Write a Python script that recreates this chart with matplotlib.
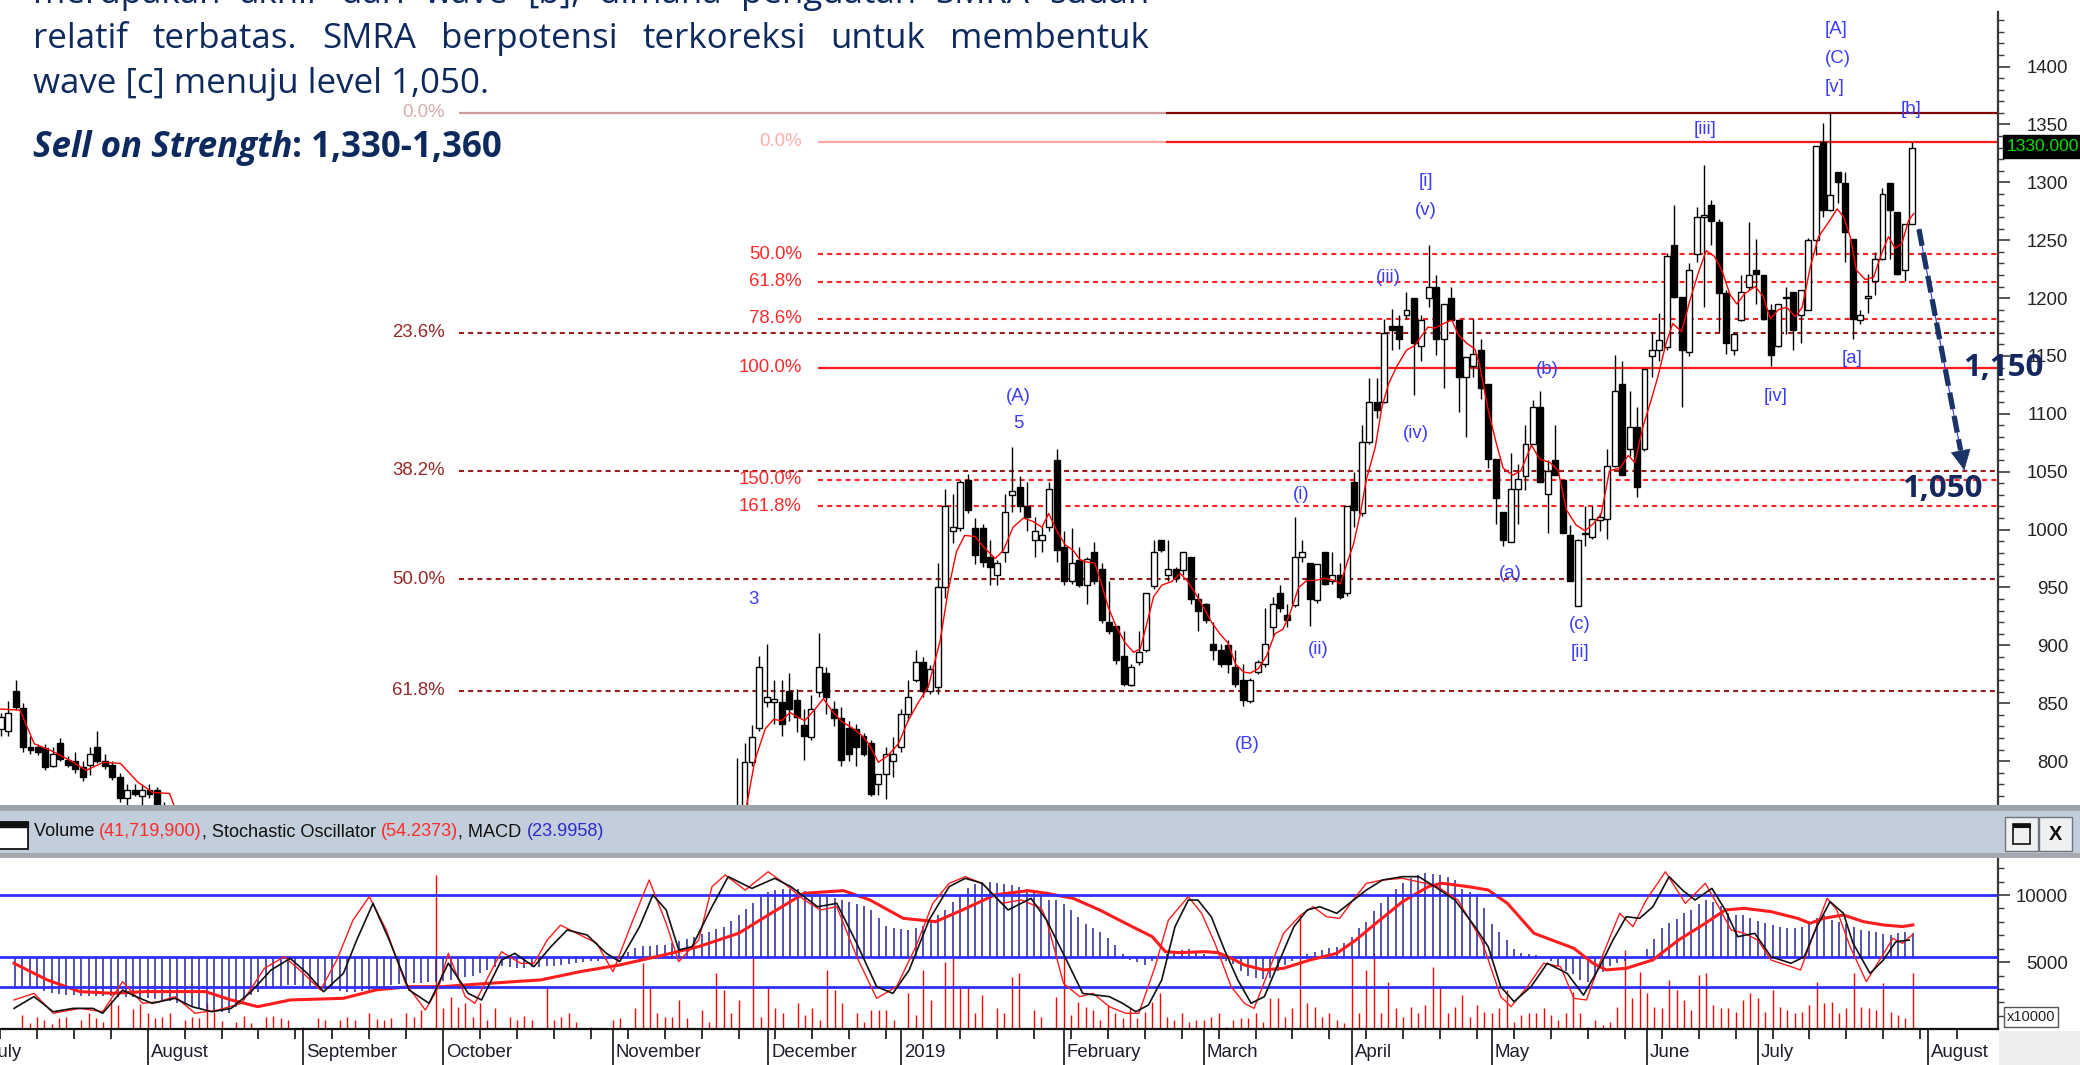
import numpy as np
import matplotlib
matplotlib.use("Agg")
import matplotlib.pyplot as plt
from matplotlib import font_manager
from matplotlib.patches import Rectangle
from matplotlib.transforms import blended_transform_factory, ScaledTranslation

installed = {f.name for f in font_manager.fontManager.ttflist}
NARROW = "Liberation Sans Narrow" if "Liberation Sans Narrow" in installed else "Liberation Sans"
NS = 1.0 if NARROW == "Liberation Sans Narrow" else 0.84
BODY = "Open Sans" if "Open Sans" in installed else "DejaVu Sans"

# ---------------- data (trading-day index, 0 = first day of Aug 2018) ----------------
month_starts = [-22, 0, 21, 40, 63, 84, 102, 124, 143, 163, 182, 203, 218, 241]
month_names = ["July", "August", "September", "October", "November", "December", "2019",
               "February", "March", "April", "May", "June", "July", "August"]

days_left = list(range(-18, 5))
opens_left = [828, 826, 861, 846, 812, 812, 811, 796, 816, 801, 800, 795, 797, 812, 800, 797, 786, 768, 775, 770, 775, 775, 760]
highs_left = [842, 852, 870, 850, 822, 815, 815, 812, 820, 804, 808, 800, 812, 826, 806, 800, 790, 780, 780, 780, 780, 778, 765]
lows_left = [822, 822, 845, 808, 806, 805, 792, 795, 800, 795, 790, 783, 788, 798, 793, 784, 765, 762, 770, 762, 768, 760, 745]
closes_left = [838, 842, 847, 812, 810, 808, 795, 806, 802, 797, 793, 786, 806, 800, 796, 786, 768, 775, 772, 775, 772, 762, 750]

days_right = list(range(81, 240))
opens_right = [745, 755, 799, 829, 851, 851, 851, 861, 853, 831,
               821, 860, 876, 845, 837, 829, 828, 822, 816, 780,
               789, 800, 812, 841, 870, 886, 861, 864, 950, 999,
               1001, 1043, 1001, 1001, 976, 961, 981, 1030, 1037, 1020,
               991, 991, 1002, 1060, 985, 956, 974, 952, 981, 966,
               920, 917, 891, 866, 886, 896, 951, 991, 961, 966,
               965, 976, 940, 936, 901, 896, 900, 881, 870, 852,
               877, 884, 916, 945, 926, 935, 976, 971, 939, 981,
               956, 961, 945, 1041, 1014, 1076, 1110, 1110, 1176, 1176,
               1185, 1200, 1159, 1200, 1210, 1165, 1200, 1181, 1132, 1141,
               1155, 1126, 1061, 1015, 989, 1035, 1046, 1074, 1106, 1031,
               1060, 1043, 995, 934, 996, 994, 1008, 1009, 1055, 1126,
               1070, 1089, 1070, 1150, 1155, 1158, 1246, 1201, 1153, 1238,
               1270, 1280, 1266, 1204, 1155, 1181, 1210, 1224, 1220, 1190,
               1159, 1200, 1205, 1185, 1190, 1250, 1335, 1276, 1309, 1299,
               1251, 1181, 1200, 1215, 1234, 1299, 1274, 1224, 1264]
highs_right = [803, 816, 831, 891, 901, 870, 870, 876, 862, 845,
               857, 911, 881, 852, 847, 835, 832, 824, 818, 789,
               812, 821, 845, 870, 896, 890, 883, 971, 1035, 1031,
               1043, 1048, 1010, 1005, 991, 974, 1031, 1071, 1046, 1041,
               1011, 1002, 1041, 1070, 999, 1001, 985, 976, 989, 971,
               956, 917, 912, 884, 912, 945, 991, 991, 991, 968,
               981, 976, 945, 937, 920, 901, 905, 896, 884, 872,
               887, 932, 942, 952, 936, 1011, 991, 971, 970, 981,
               981, 971, 1020, 1050, 1090, 1131, 1131, 1182, 1191, 1185,
               1205, 1200, 1185, 1246, 1220, 1195, 1210, 1181, 1149, 1182,
               1165, 1126, 1061, 1015, 1066, 1057, 1090, 1112, 1120, 1060,
               1090, 1043, 1004, 992, 1020, 1020, 1014, 1070, 1151, 1146,
               1120, 1106, 1139, 1171, 1187, 1239, 1280, 1201, 1230, 1279,
               1315, 1285, 1268, 1207, 1171, 1220, 1266, 1251, 1220, 1195,
               1195, 1210, 1205, 1207, 1252, 1331, 1351, 1360, 1309, 1309,
               1251, 1190, 1221, 1240, 1295, 1299, 1274, 1264, 1335]
lows_right = [740, 748, 796, 826, 847, 832, 822, 835, 825, 801,
              818, 855, 841, 830, 796, 800, 796, 804, 770, 771,
              767, 786, 808, 835, 868, 855, 858, 858, 941, 988,
              999, 1014, 970, 968, 952, 952, 972, 1015, 1015, 999,
              976, 981, 999, 972, 952, 953, 950, 936, 953, 919,
              910, 884, 865, 865, 883, 894, 949, 981, 956, 955,
              961, 936, 912, 919, 887, 881, 876, 864, 848, 850,
              875, 881, 907, 929, 916, 933, 972, 917, 937, 952,
              953, 940, 943, 1002, 1012, 1074, 1096, 1109, 1155, 1156,
              1182, 1116, 1146, 1192, 1151, 1122, 1181, 1102, 1080, 1132,
              1113, 1053, 1005, 986, 989, 1005, 1034, 1074, 1041, 997,
              1047, 997, 956, 934, 986, 992, 999, 992, 1054, 1047,
              1064, 1028, 1068, 1132, 1146, 1155, 1200, 1106, 1150, 1231,
              1192, 1246, 1171, 1152, 1151, 1180, 1207, 1195, 1181, 1141,
              1158, 1169, 1155, 1161, 1190, 1237, 1270, 1275, 1282, 1231,
              1165, 1178, 1187, 1203, 1233, 1234, 1220, 1215, 1264]
closes_right = [752, 799, 821, 881, 855, 854, 832, 845, 838, 822,
                845, 881, 855, 837, 801, 806, 812, 806, 772, 789,
                806, 806, 841, 855, 886, 861, 880, 950, 1020, 1002,
                1041, 1017, 978, 972, 968, 971, 1015, 1033, 1020, 1011,
                999, 995, 1035, 982, 956, 971, 952, 975, 956, 922,
                912, 887, 867, 881, 894, 945, 981, 982, 966, 958,
                981, 940, 930, 922, 896, 884, 884, 867, 853, 870,
                886, 901, 936, 932, 922, 976, 981, 940, 970, 953,
                961, 942, 1020, 1017, 1076, 1110, 1103, 1170, 1172, 1165,
                1190, 1161, 1181, 1210, 1165, 1195, 1181, 1132, 1149, 1152,
                1122, 1061, 1027, 991, 1035, 1044, 1074, 1106, 1041, 1051,
                1047, 997, 956, 991, 997, 1009, 1011, 1055, 1120, 1047,
                1089, 1037, 1139, 1155, 1164, 1236, 1201, 1155, 1224, 1270,
                1272, 1267, 1204, 1161, 1169, 1205, 1220, 1221, 1182, 1151,
                1195, 1201, 1172, 1207, 1250, 1331, 1276, 1289, 1300, 1257,
                1182, 1185, 1202, 1234, 1290, 1276, 1221, 1264, 1330]

# short moving average
ma_left_x = [-18.0, -15.4, -13.5, -11.2, -8.8, -6.5, -4.2, -1.9, 0.4, 2.4, 4.7, 5.4]
ma_left_y = [845, 844, 815, 809, 801, 792, 799, 798, 782, 773, 772, 760]
ma_right_x = [82.3, 83.4, 84.8, 85.9, 87.0, 88.1, 89.2, 90.1, 91.5, 92.6, 93.7, 95.1, 96.4, 97.8, 98.7,
              100.0, 101.3, 102.7, 104.0, 105.4, 106.7, 108.3, 109.4, 110.5, 111.6, 113.0, 114.3,
              115.7, 116.8, 118.1, 119.5, 120.8, 122.0, 122.9, 124.0, 125.1, 126.2, 127.1, 128.0, 129.1,
              130.0, 130.9, 132.0, 133.2, 134.3, 135.2, 136.1, 137.0, 138.1, 139.4, 140.6, 141.5, 142.6,
              143.7, 144.8, 145.9, 147.0, 148.0, 149.1, 150.0, 151.1, 152.2, 153.3, 154.4, 155.3, 156.5,
              157.6, 158.7, 160.0, 161.4, 162.1, 163.0, 163.9, 164.8, 165.6, 166.8, 167.7, 168.6, 169.7,
              171.0, 172.1, 173.0, 173.9, 174.8, 176.0, 177.1, 178.0, 179.1, 180.2, 180.8, 182.0, 183.1,
              184.0, 185.3, 186.4, 187.8, 188.9, 190.3, 191.4, 192.5, 193.8, 195.0, 196.1, 197.2, 198.3,
              199.7, 200.8, 201.7, 202.8, 203.9, 204.8, 205.9, 206.8, 208.0, 209.1, 210.2, 211.3, 212.4,
              213.4, 214.5, 215.4, 216.5, 217.9, 219.0, 219.9, 221.0, 222.1, 223.3, 224.2, 225.3, 226.4,
              227.7, 228.9, 229.8, 230.7, 231.5, 232.7, 233.8, 234.9, 235.8, 236.7, 237.6, 238.5, 239.2]
ma_right_y = [762, 801, 828, 836, 835, 842, 838, 835, 845, 854, 844, 834, 829, 822, 815,
              799, 805, 815, 835, 851, 864, 904, 948, 981, 995, 994, 984,
              975, 982, 1002, 1010, 1007, 1002, 1014, 999, 987, 982, 974, 972, 971,
              953, 933, 916, 902, 894, 897, 919, 942, 952, 955, 962, 956, 945,
              933, 920, 910, 902, 884, 877, 876, 880, 891, 910, 914, 927, 950,
              956, 956, 958, 956, 953, 971, 988, 1014, 1043, 1071, 1106, 1126, 1141,
              1155, 1159, 1167, 1175, 1174, 1178, 1181, 1168, 1161, 1156, 1143, 1103, 1074,
              1053, 1047, 1051, 1073, 1061, 1058, 1051, 1017, 1004, 999, 1005, 1014, 1051,
              1053, 1064, 1058, 1089, 1112, 1132, 1161, 1178, 1171, 1198, 1221, 1241, 1236,
              1224, 1203, 1195, 1204, 1210, 1201, 1182, 1190, 1192, 1184, 1192, 1227, 1253,
              1265, 1277, 1270, 1252, 1224, 1216, 1218, 1239, 1253, 1243, 1247, 1267, 1273]

# Fibonacci sets
fibA_labels = ["0.0%", "23.6%", "38.2%", "50.0%", "61.8%"]
fibA_prices = [1360, 1170, 1051, 957, 861]
fibB_labels = ["0.0%", "50.0%", "61.8%", "78.6%", "100.0%", "150.0%", "161.8%"]
fibB_prices = [1335, 1238, 1214, 1182, 1140, 1043, 1020]
fibB_solid = ["0.0%", "100.0%"]

# Elliott wave labels (text, day, price)
wave_text = ["3", "(A)", "5", "(B)", "(i)", "(ii)", "(iii)", "[i]", "(v)", "(iv)", "(a)", "(b)",
             "(c)", "[ii]", "[iii]", "[iv]", "[A]", "(C)", "[v]", "[a]", "[b]"]
wave_x = [83.2, 118.8, 118.8, 149.6, 156.8, 159.1, 168.6, 173.6, 173.6, 172.2, 185.0, 189.9,
          194.3, 194.3, 211.2, 220.6, 228.7, 229.0, 228.5, 230.9, 238.8]
wave_y = [940, 1115, 1092, 814, 1030, 896, 1218, 1301, 1276, 1083, 962, 1138,
          918, 894, 1346, 1115, 1432, 1407, 1382, 1148, 1363]

# lower panel
vol_days = [-17, -16, -15, -14, -13, -12, -11, -9, -8, -7, -6, -5, -4, -2, -1, 0, 1, 2, 3, 5,
            6, 7, 8, 9, 10, 12, 13, 14, 16, 17, 18, 19, 21, 23, 24, 26, 27, 28, 30, 31,
            32, 33, 35, 36, 37, 39, 40, 41, 42, 43, 44, 45, 46, 47, 49, 50, 51, 52, 54, 55,
            56, 57, 58, 59, 60, 62, 63, 64, 66, 67, 68, 69, 70, 71, 72, 73, 75, 76, 77, 78,
            79, 80, 82, 83, 84, 85, 86, 88, 89, 90, 91, 92, 93, 94, 96, 97, 98, 99, 100, 101,
            103, 104, 105, 106, 108, 109, 110, 111, 112, 113, 115, 116, 117, 118, 120, 121] + list(range(123, 240))
vol_vals = [1067, 447, 943, 695, 397, 819, 943, 695, 1191, 819, 571, 2184, 1812, 1489, 1886, 1191, 819, 943, 1191, 695,
            943, 819, 1936, 1315, 645, 571, 993, 496, 943, 993, 819, 695, 149, 819, 695, 695, 943, 695, 1191, 745,
            695, 819, 1191, 943, 1440, 11492, 1564, 2432, 1688, 1936, 943, 1936, 695, 1564, 943, 695, 993, 695, 3177, 695,
            943, 1191, 571, 74, 199, 50, 695, 819, 1564, 4914, 3177, 1191, 943, 943, 2184, 819, 1440, 571, 4170, 2929,
            1191, 2184, 5287, 943, 3053, 1564, 1191, 1936, 1067, 1564, 695, 4418, 2929, 1936, 1191, 571, 1440, 1440, 1440, 695,
            2681, 1067, 4418, 2184, 5038, 5287, 3053, 3053, 1191, 2556, 1564, 1191, 3922, 4170, 1440, 943,
            2432, 5411, 1067, 2060, 1688, 1440, 695, 1812, 1191, 819,
            1564, 819, 1315, 2060, 2681, 943, 695, 1191, 571, 695,
            695, 943, 1191, 199, 695, 819, 819, 1191, 571, 2308,
            2308, 943, 1564, 8513, 1936, 1688, 943, 1191, 695, 447,
            5287, 1191, 4418, 5659, 1191, 3549, 1564, 943, 1688, 1191,
            1812, 4666, 3177, 1191, 1688, 2556, 943, 1812, 1315, 1191,
            1564, 2929, 571, 1067, 1191, 1191, 1564, 1067, 695, 1191,
            2805, 1191, 199, 695, 323, 571, 1688, 5907, 2308, 4294,
            2681, 1688, 1564, 3673, 2929, 2184, 1440, 4046, 4170, 1812,
            1564, 1564, 1315, 2184, 2681, 2308, 1315, 2929, 1688, 1440,
            1191, 1315, 1812, 3549, 1936, 2060, 1191, 1564, 4170, 1688,
            1564, 1440, 3425, 1315, 1067, 819, 4172]

macd_days = list(range(-18, 240))
macd_hist = [-31, -31, -32, -33, -35, -37, -38, -39, -40, -41,
             -41, -41, -41, -41, -42, -42, -42, -43, -43, -44,
             -45, -46, -48, -49, -51, -53, -54, -56, -57, -58,
             -52, -45, -40, -36, -33, -31, -30, -29, -29, -30,
             -30, -31, -32, -33, -35, -36, -36, -35, -34, -32,
             -31, -29, -28, -28, -27, -27, -26, -26, -25, -24,
             -23, -21, -20, -17, -14, -11, -10, -11, -12, -12,
             -11, -11, -10, -10, -9, -8, -7, -6, -5, -4,
             -3, -1, 1, 5, 9, 11, 11, 12, 12, 14,
             16, 18, 20, 23, 25, 28, 31, 37, 43, 49,
             55, 61, 67, 69, 70, 70, 70, 68, 66, 64,
             62, 60, 58, 56, 54, 52, 48, 40, 32, 29,
             28, 27, 29, 32, 37, 43, 48, 56, 64, 71,
             75, 77, 77, 76, 75, 74, 72, 70, 68, 62,
             58, 58, 54, 48, 41, 34, 29, 25, 19, 12,
             3, -3, -6, -9, -5, -1, 3, 6, 7, 8,
             6, 3, 1, -2, -5, -8, -15, -20, -22, -23,
             -22, -15, -9, -4, -1, 3, 5, 7, 9, 10,
             14, 20, 29, 36, 47, 55, 62, 70, 76, 81,
             84, 86, 85, 84, 82, 79, 70, 66, 62, 50,
             34, 25, 17, 8, 4, 3, 2, 0, -5, -10,
             -15, -18, -24, -26, -21, -16, -10, -7, -5, -2,
             0, 8, 18, 29, 35, 39, 45, 48, 54, 58,
             56, 52, 45, 43, 43, 40, 37, 35, 33, 30,
             29, 29, 31, 34, 40, 43, 38, 36, 34, 31,
             27, 26, 25, 23, 22, 24, 25, 24]

signal_x = [-18.1, -13.6, -9.2, -4.7, -0.3, 7.8, 11.3, 14.9, 19.3, 26.5, 30.9, 35.4, 39.9, 44.3, 49.7,
            53.2, 58.6, 63.9, 69.3, 74.6, 80.0, 84.4, 88.9, 94.2, 97.8, 102.3, 106.7, 110.3, 114.7,
            119.2, 121.7, 125.3, 128.9, 132.4, 136.0, 137.8, 139.6, 143.1, 144.9, 146.7, 148.5, 151.1,
            153.8, 157.4, 161.0, 163.6, 166.3, 169.9, 173.4, 175.2, 178.8, 181.5, 184.1, 187.7, 191.3,
            193.1, 195.7, 197.5, 200.2, 203.8, 207.3, 210.9, 213.6, 216.2, 219.8, 223.4, 225.1, 226.9,
            229.6, 232.3, 235.0, 237.6, 239.0]
signal_y = [-6.9, -24.0, -36.0, -37.7, -36.0, -36.0, -44.6, -51.5, -44.6, -42.9, -34.3, -30.9, -30.9, -28.5, -25.7,
            -24.0, -15.4, -8.6, 0.7, 10.3, 24.0, 44.6, 65.2, 67.9, 58.3, 39.4, 36.0, 48.0, 63.5,
            67.9, 65.2, 60.0, 48.0, 34.3, 20.6, 5.1, 4.1, 5.1, 4.1, -1.7, -8.6, -13.7,
            -12.0, -3.4, 3.4, 17.2, 34.3, 56.6, 72.0, 75.5, 72.0, 68.6, 54.9, 24.0, 13.7,
            8.6, -6.9, -13.7, -12.0, -3.4, 17.2, 34.3, 48.0, 49.7, 46.3, 39.4, 34.3, 39.4,
            42.9, 36.0, 32.6, 30.9, 32.6]

slow_x = [-18.1, -15.4, -12.8, -10.1, -7.4, -6.1, -3.4, -1.6, 0.6, 3.7, 6.0, 8.7, 11.3, 14.0, 16.7,
          19.3, 21.6, 23.8, 26.5, 28.3, 30.5, 32.7, 35.4, 38.1, 40.7, 43.4, 45.2, 47.9, 49.7, 52.3,
          54.6, 56.8, 59.5, 62.1, 63.9, 66.6, 68.4, 70.2, 71.9, 73.7, 76.4, 78.6, 81.8, 84.9, 87.1,
          90.7, 93.3, 96.0, 98.7, 100.9, 103.1, 105.8, 108.5, 110.7, 113.0, 116.5, 119.6, 121.7, 124.4,
          126.6, 128.4, 130.2, 132.0, 133.8, 135.5, 137.3, 139.1, 140.9, 142.2, 144.0, 145.8, 147.6,
          149.4, 151.2, 152.9, 155.2, 157.0, 158.7, 161.0, 162.7, 165.0, 167.2, 169.9, 172.1, 174.3,
          177.0, 179.7, 181.5, 183.2, 185.0, 187.3, 189.5, 192.2, 194.4, 196.6, 198.4, 200.2, 202.0,
          203.8, 206.0, 207.8, 209.5, 211.8, 213.6, 215.3, 217.6, 219.8, 222.5, 224.3, 226.0, 227.8,
          229.6, 230.9, 233.2, 235.0, 236.7, 238.5]
slow_y = [5.8, 13.5, 3.6, 5.8, 5.8, 2.6, 17.8, 13.5, 9.1, 12.4, 6.9, 3.6, 5.8, 16.7, 30.9,
          38.5, 28.7, 16.7, 28.7, 50.5, 74.5, 50.5, 17.8, 9.1, 35.3, 15.6, 11.3, 37.4, 41.8, 33.1,
          46.2, 57.1, 53.8, 41.8, 36.4, 59.3, 80.0, 70.2, 44.0, 46.2, 72.3, 92.0, 84.3, 90.9, 85.4,
          72.3, 74.5, 48.4, 20.0, 15.6, 30.9, 63.6, 85.4, 90.9, 87.6, 70.2, 77.8, 63.6, 37.4,
          15.6, 14.5, 13.5, 9.1, 3.6, 8.0, 24.4, 59.3, 76.7, 76.7, 65.8, 44.0, 24.4,
          9.1, 13.5, 33.1, 59.3, 70.2, 72.3, 68.0, 74.5, 83.2, 89.8, 92.0, 92.0, 85.4,
          76.7, 59.3, 46.2, 20.0, 10.2, 20.0, 35.3, 28.7, 14.5, 33.1, 50.5, 65.8, 64.7,
          72.3, 92.0, 83.2, 76.7, 84.3, 70.2, 52.7, 54.9, 39.6, 35.3, 39.6, 59.3, 75.6,
          68.0, 48.4, 28.7, 37.4, 49.4, 50.5]

fast_x = [-18.1, -15.4, -12.8, -9.2, -6.1, -3.4, -0.7, 1.5, 3.7, 6.4, 9.5, 12.7, 15.8, 18.5, 21.1,
          23.4, 25.6, 27.8, 30.0, 32.3, 34.9, 37.6, 39.4, 40.7, 43.0, 44.3, 46.1, 47.9, 50.5, 52.3,
          54.1, 55.9, 58.1, 60.8, 63.0, 65.7, 67.9, 70.2, 71.9, 74.6, 76.4, 78.2, 80.9, 84.0, 86.2,
          88.9, 91.1, 93.3, 96.0, 98.7, 101.4, 104.0, 106.3, 108.5, 110.7, 113.0, 115.6, 118.3, 121.0,
          121.7, 124.0, 126.2, 128.0, 130.2, 132.4, 134.2, 136.4, 138.2, 140.9, 142.7, 144.5, 146.7,
          148.5, 149.8, 152.0, 153.8, 156.1, 157.8, 159.6, 161.4, 163.2, 165.0, 167.2, 169.9, 173.0,
          174.3, 177.4, 180.6, 183.2, 184.6, 186.8, 189.0, 191.3, 193.1, 194.8, 197.1, 199.3, 201.1,
          202.9, 205.5, 208.2, 210.9, 212.7, 214.4, 216.2, 218.0, 219.8, 222.5, 223.8, 225.6, 227.4,
          228.7, 230.5, 232.7, 234.5, 236.3, 237.6, 239.0]
fast_y = [11.3, 15.6, 2.6, 5.8, 3.6, 23.3, 9.1, 10.2, 13.5, 2.6, 4.7, 9.1, 32.0, 39.6, 28.7,
          17.8, 37.4, 63.6, 78.9, 57.1, 22.2, 4.7, 20.0, 41.8, 13.5, 9.1, 26.5, 42.9, 35.3, 35.3,
          50.5, 60.3, 54.9, 48.4, 29.8, 63.6, 89.8, 61.4, 36.4, 50.5, 85.4, 93.1, 83.2, 95.2, 87.6,
          76.7, 70.2, 72.3, 39.6, 12.4, 20.0, 46.2, 74.5, 87.6, 92.0, 87.6, 74.5, 76.7, 71.3,
          63.6, 22.2, 13.5, 15.6, 6.9, 2.6, 2.6, 33.1, 63.6, 78.9, 68.0, 48.4, 20.0,
          9.1, 5.8, 33.1, 54.9, 66.9, 72.3, 65.8, 64.7, 76.7, 87.6, 89.8, 90.9, 87.6,
          86.5, 76.7, 50.5, 13.5, 6.9, 20.0, 35.3, 33.1, 12.4, 11.3, 41.8, 68.0, 59.3,
          76.7, 95.2, 74.5, 87.6, 72.3, 57.1, 54.9, 50.5, 37.4, 33.1, 30.9, 54.9, 77.8,
          70.2, 46.2, 23.3, 37.4, 51.6, 48.4, 54.2]

# ---------------- figure geometry (pixels of the 2080x1065 output) ----------------
W, H = 2080, 1065
fig = plt.figure(figsize=(W / 100, H / 100), dpi=100)
fig.patch.set_facecolor("white")


def fx(px):
    return px / W


def fy(py):
    return 1 - py / H


XLIM = (-18.10, 250.53)
NAVY = "#0c2a5e"
WAVE = "#3c3cff"
AXC = "#3a3a3a"

# ---------------- price panel ----------------
ax = fig.add_axes([0, fy(805), fx(1998), 805 / H])
ax.set_xlim(*XLIM)
ax.set_ylim(762.1, 1457.5)
for s in ["left", "top", "bottom"]:
    ax.spines[s].set_visible(False)
ax.spines["right"].set_color(AXC)
ax.spines["right"].set_linewidth(1.6)
ax.spines["right"].set_bounds(762.1, 1447)
ax.set_xticks([])
ax.yaxis.tick_right()
ax.set_yticks(np.arange(800, 1401, 50))
ax.set_yticks(np.arange(770, 1446, 10), minor=True)
ax.tick_params(axis="y", which="major", length=8.6, width=1.2, color=AXC, pad=41.8,
               labelsize=16 * NS, labelcolor="#222222", labelfontfamily=NARROW)
ax.tick_params(axis="y", which="minor", length=4.3, width=1.0, color=AXC)
for lab in ax.get_yticklabels():
    lab.set_horizontalalignment("right")

# Fibonacci lines
for lab, p in zip(fibA_labels, fibA_prices):
    if lab == "0.0%":
        ax.hlines(p, 43.6, XLIM[1], color="#7d0000", lw=1.6, zorder=2)
    else:
        ax.hlines(p, 43.6, XLIM[1], color="#9a1c1c", lw=1.5, linestyles=(0, (2.4, 2.0)), zorder=2)
    ax.text(41.7, p, lab, ha="right", va="center", color="#962828", fontsize=16 * NS,
            family=NARROW, zorder=2)
for lab, p in zip(fibB_labels, fibB_prices):
    if lab in fibB_solid:
        ax.hlines(p, 91.9, XLIM[1], color="#ff1a1a", lw=1.6, zorder=2)
    else:
        ax.hlines(p, 91.9, XLIM[1], color="#ff2020", lw=1.5, linestyles=(0, (2.4, 2.0)), zorder=2)
    ax.text(89.7, p, lab, ha="right", va="center", color="#ff2a2a", fontsize=16 * NS,
            family=NARROW, zorder=2)

# candles
for d_list, o_list, h_list, l_list, c_list in [
        (days_left, opens_left, highs_left, lows_left, closes_left),
        (days_right, opens_right, highs_right, lows_right, closes_right)]:
    d = np.array(d_list)
    o, hi, lo, c = (np.array(v, dtype=float) for v in (o_list, h_list, l_list, c_list))
    ax.vlines(d, lo, hi, color="black", lw=1.0, zorder=3)
    up = c >= o
    ax.bar(d[up], np.maximum((c - o)[up], 1.2), bottom=o[up], width=0.8, color="white",
           edgecolor="black", lw=1.0, zorder=4)
    ax.bar(d[~up], np.maximum((o - c)[~up], 1.2), bottom=c[~up], width=0.8, color="black",
           edgecolor="black", lw=1.0, zorder=4)

ax.plot(ma_left_x, ma_left_y, color="#ff0000", lw=1.0, zorder=5)
ax.plot(ma_right_x, ma_right_y, color="#ff0000", lw=1.0, zorder=5)

for t, x, y in zip(wave_text, wave_x, wave_y):
    ax.text(x, y, t, ha="center", va="center", color=WAVE, fontsize=16 * NS, family=NARROW, zorder=6)

# projected path to 1,050
arrow_from = (239.9, 1259.5)
arrow_to = (246.0, 1051.3)
arrow_mid = (245.5, 1068.5)
ax.plot([arrow_from[0], arrow_to[0]], [arrow_from[1], arrow_to[1]], color="#3030ff", lw=0.8,
        zorder=7, clip_on=False)
ax.plot([arrow_from[0], arrow_mid[0]], [arrow_from[1], arrow_mid[1]], color="#1b3468", lw=3.8,
        ls=(0, (3.2, 1.3)), solid_capstyle="butt", zorder=8, clip_on=False)
ax.annotate("", xy=arrow_to, xytext=arrow_mid,
            arrowprops=dict(arrowstyle="-|>", mutation_scale=34, color="#1b3468", lw=0.5,
                            shrinkA=0, shrinkB=0), zorder=8, annotation_clip=False)
ax.text(251.2, 1139.5, "1,150", ha="center", va="center", color="#14285f", fontsize=22.5,
        fontweight="bold", family=BODY, zorder=10, clip_on=False)
ax.text(243.1, 1034.8, "1,050", ha="center", va="center", color="#14285f", fontsize=22.5,
        fontweight="bold", family=BODY, zorder=10, clip_on=False)

# last price tag
tag_tr = blended_transform_factory(ax.transAxes, ax.transData)
ax.text(1.0045, 1331, "1330.000", transform=tag_tr, ha="left", va="center", color="#00e000",
        fontsize=15 * NS, family=NARROW, zorder=12, clip_on=False,
        bbox=dict(boxstyle="square,pad=0.22", fc="black", ec="black"))

# ---------------- separator / header bar ----------------
fig.patches.append(Rectangle((0, fy(811)), 1, 6 / H, transform=fig.transFigure,
                             fc="#9ea4aa", ec="none", zorder=1))
fig.patches.append(Rectangle((0, fy(853)), 1, 42 / H, transform=fig.transFigure,
                             fc="#c2cedb", ec="none", zorder=1))
fig.patches.append(Rectangle((0, fy(858)), 1, 5 / H, transform=fig.transFigure,
                             fc="#a3a9af", ec="none", zorder=1))
# window icon
fig.patches.append(Rectangle((fx(-3), fy(849)), fx(31), 27 / H, transform=fig.transFigure,
                             fc="white", ec="#111111", lw=1.3, zorder=2))
fig.patches.append(Rectangle((fx(-3), fy(827)), fx(31), 5 / H, transform=fig.transFigure,
                             fc="#111111", ec="#111111", lw=1.0, zorder=2))
# buttons
for bx in (2005, 2039):
    fig.patches.append(Rectangle((fx(bx), fy(851)), fx(33), 34 / H, transform=fig.transFigure,
                                 fc="#eef0f2", ec="#6e757c", lw=1.0, zorder=2))
fig.patches.append(Rectangle((fx(2013), fy(844)), fx(17), 20 / H, transform=fig.transFigure,
                             fc="none", ec="#111111", lw=1.2, zorder=3))
fig.patches.append(Rectangle((fx(2013), fy(827)), fx(17), 3 / H, transform=fig.transFigure,
                             fc="#111111", ec="#111111", lw=0.8, zorder=3))
fig.text(fx(2055.5), fy(834), "X", ha="center", va="center", fontsize=17 * NS, family=NARROW,
         fontweight="bold", color="#111111", zorder=3)

renderer = fig.canvas.get_renderer()
header_parts = [("Volume ", "#111111"), ("(41,719,900)", "#ff2a2a"), (", Stochastic Oscillator ", "#111111"),
                ("(54.2373)", "#ff2a2a"), (", MACD ", "#111111"), ("(23.9958)", "#2b2bc8")]
xpos = 34
for txt, col in header_parts:
    t = fig.text(fx(xpos), fy(832), txt, ha="left", va="center", color=col, fontsize=15.5 * NS,
                 family=NARROW, zorder=3)
    xpos += t.get_window_extent(renderer).width

# ---------------- lower panel ----------------
ax2 = fig.add_axes([0, fy(1029.3), fx(1998), 171.3 / H])
ax_m = ax2.twinx()
ax_s = ax2.twinx()
ax2.set_xlim(*XLIM)
ax2.set_ylim(0, 12757)
ax_m.set_ylim(-74.8, 101.5)
ax_s.set_ylim(-7.9, 104.2)
ax_m.axis("off")
ax_s.axis("off")

ax2.vlines(vol_days, 0, vol_vals, color="#ff0000", lw=1.0)
ax_m.vlines(macd_days, 0, macd_hist, color="#24249c", lw=1.1)
ax_m.axhline(0, color="#2f2fff", lw=2.0)
ax_s.axhline(80, color="#2f2fff", lw=2.0)
ax_s.axhline(20, color="#2f2fff", lw=2.0)
ax_m.plot(signal_x, signal_y, color="#ff1c1c", lw=2.2)
ax_s.plot(fast_x, fast_y, color="#ff1c1c", lw=1.0)
ax_s.plot(slow_x, slow_y, color="#111111", lw=1.2)

for s in ["left", "top"]:
    ax2.spines[s].set_visible(False)
ax2.spines["right"].set_color(AXC)
ax2.spines["right"].set_linewidth(1.6)
ax2.spines["bottom"].set_color("#111111")
ax2.spines["bottom"].set_linewidth(1.6)
ax2.yaxis.tick_right()
ax2.set_yticks([5000, 10000])
ax2.set_yticks(np.arange(1000, 12001, 1000), minor=True)
ax2.tick_params(axis="y", which="major", length=8.6, width=1.2, color=AXC, pad=41.8,
                labelsize=16 * NS, labelcolor="#222222", labelfontfamily=NARROW)
ax2.tick_params(axis="y", which="minor", length=4.3, width=1.0, color=AXC)
for lab in ax2.get_yticklabels():
    lab.set_horizontalalignment("right")
ax2.set_xticks(month_starts[1:])
ax2.set_xticks(np.arange(-20, 250, 5), minor=True)
ax2.tick_params(axis="x", which="major", length=26, width=1.2, color="#111111", labelbottom=False)
ax2.tick_params(axis="x", which="minor", length=7, width=1.2, color="#111111")

mtr = blended_transform_factory(ax2.transData, ax2.transAxes) + ScaledTranslation(3 / 100, 0, fig.dpi_scale_trans)
for m, name in zip(month_starts, month_names):
    ax2.text(m, -0.138, name, transform=mtr, ha="left", va="center", fontsize=16 * NS,
             family=NARROW, color="#1c1c2c", clip_on=False)

fig.patches.append(Rectangle((fx(1999), 0), fx(81), (1065 - 1031) / H, transform=fig.transFigure,
                             fc="#eeeeee", ec="none", zorder=1))
fig.text(fx(2031), fy(1017), "x10000", ha="center", va="center", fontsize=12.5 * NS, family=NARROW,
         color="#222222", zorder=3,
         bbox=dict(boxstyle="square,pad=0.2", fc="white", ec="#555555", lw=1.0))

# ---------------- commentary overlay ----------------
fig.patches.append(Rectangle((0, fy(178)), fx(1166), 178 / H, transform=fig.transFigure,
                             fc="white", ec="none", alpha=0.62, zorder=5))

probe = fig.text(0, 0, "wave [c] menuju level 1,050.", fontsize=24, family=BODY)
body_size = 24 * 458 / probe.get_window_extent(renderer).width
probe.remove()


def justify(words, x0, x1, base, **kw):
    arts = [fig.text(0, fy(base), w, va="baseline", ha="left", **kw) for w in words]
    widths = [a.get_window_extent(renderer).width for a in arts]
    gap = (x1 - x0 - sum(widths)) / (len(words) - 1)
    x = x0
    for a, wd in zip(arts, widths):
        a.set_x(fx(x))
        x += wd + gap


body_kw = dict(fontsize=body_size, family=BODY, color=NAVY, zorder=6)
justify("merupakan akhir dari wave [b], dimana penguatan SMRA sudah".split(), 33, 1149, 3, **body_kw)
justify("relatif terbatas. SMRA berpotensi terkoreksi untuk membentuk".split(), 33, 1149, 48, **body_kw)
fig.text(fx(33), fy(93), "wave [c] menuju level 1,050.", va="baseline", ha="left", **body_kw)

t1 = fig.text(fx(33), fy(157), "Sell on Strength", va="baseline", ha="left", fontsize=body_size,
              family=BODY, color=NAVY, fontweight="bold", fontstyle="italic", zorder=6)
w1 = t1.get_window_extent(renderer).width
fig.text(fx(33 + w1), fy(157), ": 1,330-1,360", va="baseline", ha="left", fontsize=body_size,
         family=BODY, color=NAVY, fontweight="bold", zorder=6)

fig.savefig("out.png", dpi=100)
